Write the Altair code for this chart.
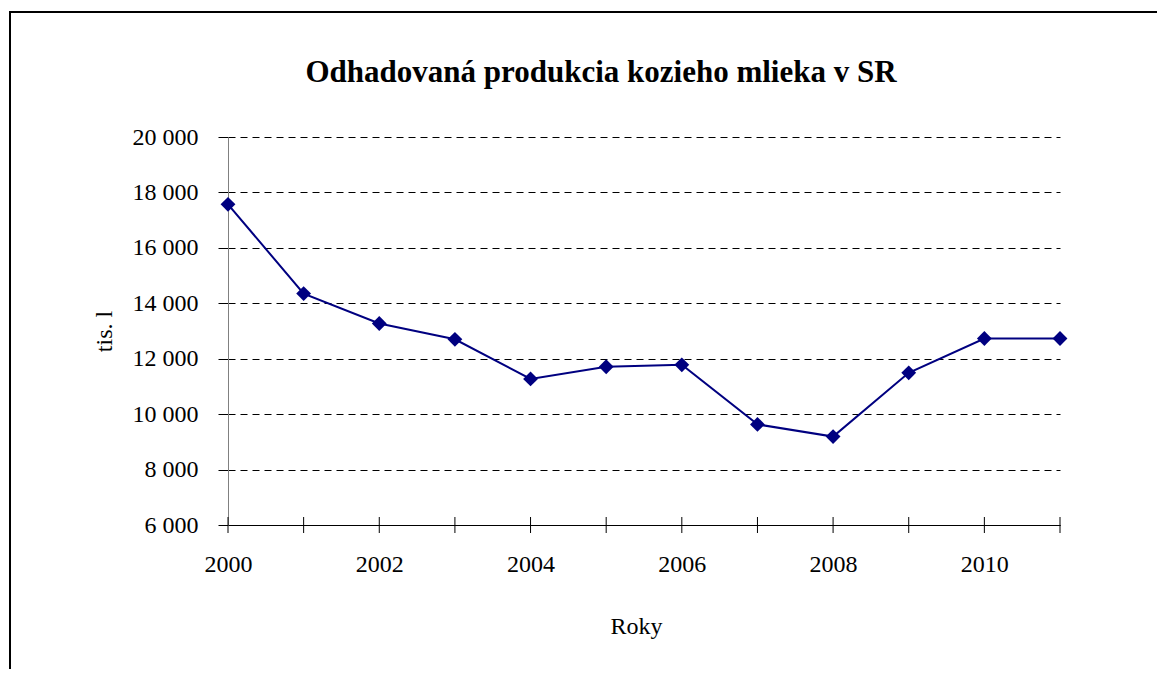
import altair as alt
import pandas as pd

years = list(range(2000, 2012))
values = [17570, 14350, 13270, 12700, 11270, 11710, 11780, 9630, 9190, 11490, 12730, 12730]
y_ticks = list(range(6000, 20001, 2000))

title_text = "Odhadovaná produkcia kozieho mlieka v SR"
x_title = "Roky"
y_title = "tis. l"

W, H = 832, 388
FONT = "Liberation Serif"

df = pd.DataFrame({"year": years, "value": values})

x_enc = alt.X(
    "year:Q",
    scale=alt.Scale(domain=[2000, 2011], nice=False, zero=False),
    axis=alt.Axis(
        values=years,
        labelExpr="datum.value % 2 == 0 ? '' + datum.value : ''",
        ticks=False,
        tickSize=0,
        labelPadding=27,
        labelFont=FONT,
        labelFontSize=24,
        labelColor="black",
        title=x_title,
        titleFont=FONT,
        titleFontSize=24,
        titleFontWeight="normal",
        titleColor="black",
        titlePadding=38,
        titleX=408,
        domainColor="black",
        domainWidth=1,
        grid=False,
        labelFlush=False,
        labelOverlap=False,
    ),
)

y_enc = alt.Y(
    "value:Q",
    scale=alt.Scale(domain=[6000, 20000], nice=False, zero=False),
    axis=alt.Axis(
        values=y_ticks,
        labelExpr="replace(format(datum.value, ','), ',', ' ')",
        labelFont=FONT,
        labelFontSize=24,
        labelColor="black",
        labelPadding=20,
        tickSize=10,
        tickColor="black",
        title=y_title,
        titleFont=FONT,
        titleFontSize=24,
        titleFontWeight="normal",
        titleColor="black",
        titlePadding=16,
        domainColor="#808080",
        grid=True,
        gridColor="black",
        gridDash=[7, 5],
        gridWidth=1,
        labelOverlap=False,
    ),
)

base = alt.Chart(df)

line = base.mark_line(color="#000080", strokeWidth=2).encode(x=x_enc, y=y_enc)
pts = base.mark_point(shape="diamond", filled=True, size=220, color="#000080", opacity=1).encode(
    x="year:Q", y="value:Q"
)
xticks = base.mark_rule(color="black", strokeWidth=1).encode(
    x="year:Q", y=alt.value(H - 8), y2=alt.value(H + 8)
)
border = alt.Chart(alt.Data(values=[{}])).mark_rect(
    fillOpacity=0, stroke="black", strokeWidth=2
).encode(x=alt.value(-218), y=alt.value(-125), x2=alt.value(2000), y2=alt.value(2000))

chart = alt.layer(border, line, xticks, pts).properties(
    width=W,
    height=H,
    title=alt.TitleParams(
        text=title_text,
        font=FONT,
        fontSize=31,
        fontWeight="bold",
        color="black",
        anchor="middle",
        frame="group",
        dx=-43,
        baseline="alphabetic",
        offset=-102,
    ),
    autosize=alt.AutoSizeParams(type="none"),
    padding={"left": 220, "top": 129, "right": 97, "bottom": 144},
    background="white",
).configure_view(strokeWidth=0, stroke="transparent")

chart.save("out.html", embed_options={"renderer": "svg", "actions": False})
